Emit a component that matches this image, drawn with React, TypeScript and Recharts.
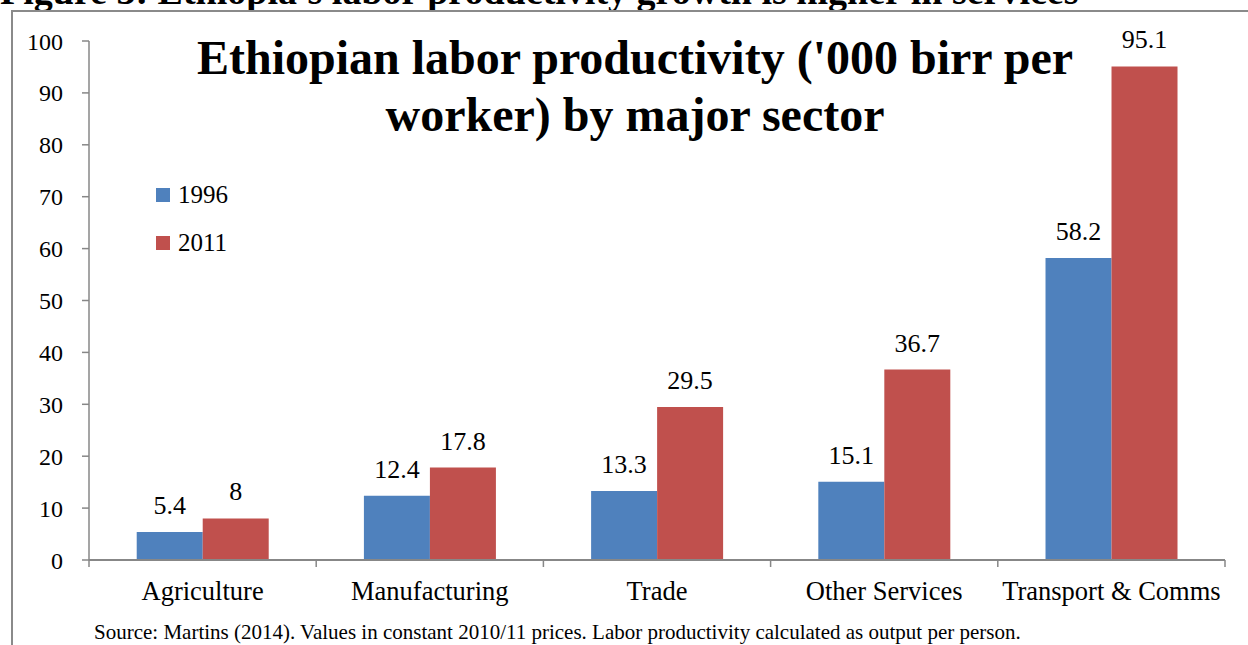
import React from "react";
import {
  Bar,
  BarChart,
  LabelList,
  Legend,
  XAxis,
  YAxis,
} from "recharts";

const sectors = [
  "Agriculture",
  "Manufacturing",
  "Trade",
  "Other Services",
  "Transport & Comms",
];
const values1996 = [5.4, 12.4, 13.3, 15.1, 58.2];
const values2011 = [8, 17.8, 29.5, 36.7, 95.1];
const yTicks = [0, 10, 20, 30, 40, 50, 60, 70, 80, 90, 100];

const data = sectors.map((name, i) => ({
  name,
  y1996: values1996[i],
  y2011: values2011[i],
}));

const SERIF = "Liberation Serif";
const AXIS = "#878787";

const CategoryTick = (props: any) => {
  const { x, y, payload, index, visibleTicksCount } = props;
  const half = payload.offset || 0;
  return (
    <g>
      <line x1={x - half} y1={y} x2={x - half} y2={y + 7} stroke={AXIS} strokeWidth={1.5} />
      {index === visibleTicksCount - 1 && (
        <line x1={x + half} y1={y} x2={x + half} y2={y + 7} stroke={AXIS} strokeWidth={1.5} />
      )}
      <text
        x={x}
        y={y + 40}
        textAnchor="middle"
        style={{ fontFamily: SERIF, fontSize: 26.5 }}
        fill="#000"
      >
        {payload.value}
      </text>
    </g>
  );
};

const LegendBox = (props: any) => {
  const { payload } = props;
  return (
    <div>
      {(payload || []).map((p: any) => (
        <div
          key={p.value}
          style={{
            display: "flex",
            alignItems: "center",
            height: 48,
            fontFamily: SERIF,
            fontSize: 25,
            color: "#000",
          }}
        >
          <span
            style={{
              width: 14,
              height: 14,
              background: p.color,
              marginRight: 8,
              display: "inline-block",
            }}
          />
          {p.value}
        </div>
      ))}
    </div>
  );
};

const tickStyle = { fontFamily: SERIF, fontSize: 24 };
const labelStyle = { fontFamily: SERIF, fontSize: 26 };

export default function App() {
  return (
    <div
      style={{
        position: "absolute",
        left: 0,
        top: 0,
        width: 1248,
        height: 645,
        overflow: "hidden",
        background: "#fff",
      }}
    >
      <div
        style={{
          position: "absolute",
          left: 0,
          top: -30,
          fontFamily: SERIF,
          fontWeight: "bold",
          fontSize: 38,
          whiteSpace: "nowrap",
          lineHeight: "42px",
        }}
      >
        Figure 3: Ethiopia's labor productivity growth is higher in services
      </div>
      <div
        style={{
          position: "absolute",
          left: 11,
          top: 10,
          width: 1248,
          height: 700,
          borderTop: "2px solid #8a8a8a",
          borderLeft: "2px solid #8a8a8a",
        }}
      />
      <BarChart
        width={1248}
        height={645}
        data={data}
        margin={{ top: 41, right: 23, left: 29, bottom: 25 }}
        barCategoryGap="21%"
        barGap={0}
        style={{ position: "absolute", left: 0, top: 0 }}
      >
        <XAxis
          dataKey="name"
          interval={0}
          height={60}
          tickLine={false}
          tickSize={0}
          tickMargin={0}
          axisLine={{ stroke: AXIS, strokeWidth: 2 }}
          tick={<CategoryTick />}
        />
        <YAxis
          domain={[0, 100]}
          ticks={yTicks}
          width={60}
          tickSize={7}
          tickMargin={19}
          axisLine={{ stroke: AXIS, strokeWidth: 1.5 }}
          tickLine={{ stroke: AXIS, strokeWidth: 1.5 }}
          tick={{ style: tickStyle, fill: "#000" }}
          interval={0}
        />
        <Legend
          layout="vertical"
          verticalAlign="middle"
          align="center"
          wrapperStyle={{ left: 156, top: 171, width: 120 }}
          content={<LegendBox />}
        />
        <Bar
          dataKey="y1996"
          name="1996"
          fill="#4F81BD"
          isAnimationActive={false}
        >
          <LabelList
            dataKey="y1996"
            position="top"
            offset={18}
            style={labelStyle}
            fill="#000"
          />
        </Bar>
        <Bar
          dataKey="y2011"
          name="2011"
          fill="#C0504D"
          isAnimationActive={false}
        >
          <LabelList
            dataKey="y2011"
            position="top"
            offset={18}
            style={labelStyle}
            fill="#000"
          />
        </Bar>
      </BarChart>
      <div
        style={{
          position: "absolute",
          left: 135,
          top: 29,
          width: 1000,
          textAlign: "center",
          fontFamily: SERIF,
          fontWeight: "bold",
          fontSize: 48,
          lineHeight: "57px",
          color: "#000",
        }}
      >
        Ethiopian labor productivity ('000 birr per
        <br />
        worker) by major sector
      </div>
      <div
        style={{
          position: "absolute",
          left: 94,
          top: 620,
          fontFamily: SERIF,
          fontSize: 21,
          whiteSpace: "nowrap",
          color: "#000",
        }}
      >
        Source: Martins (2014). Values in constant 2010/11 prices. Labor
        productivity calculated as output per person.
      </div>
    </div>
  );
}
